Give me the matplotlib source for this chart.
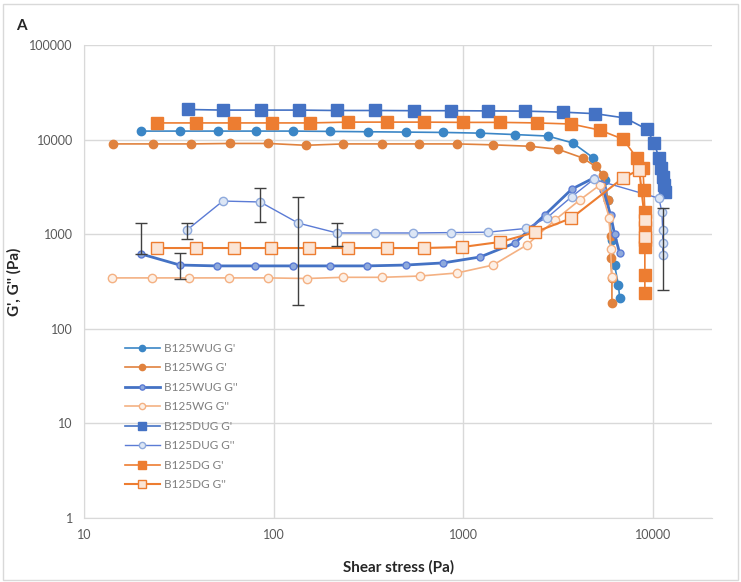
import matplotlib
matplotlib.use("Agg")
import matplotlib.pyplot as plt
from matplotlib.patches import Rectangle
import numpy as np

plt.rcParams['font.family'] = ['Lato', 'DejaVu Sans']

# B125WUG G' (blue circles)
wug_g1_x = [20, 32, 51, 81, 127, 199, 316, 500, 785, 1230, 1880, 2800, 3800, 4870, 5600, 5800, 6100, 6300, 6600, 6700]
wug_g1_y = [12300, 12300, 12300, 12300, 12300, 12200, 12100, 12000, 11900, 11700, 11300, 10900, 9200, 6400, 3700, 2300, 870, 470, 290, 212]

# B125WG G' (orange circles)
wg_g1_x = [14.2, 23.2, 36.7, 59, 94, 148, 233, 373, 588, 929, 1440, 2250, 3170, 4270, 5000, 5500, 5800, 6000, 6000, 6100, 6100]
wg_g1_y = [9000, 9000, 9000, 9100, 9100, 8700, 9000, 9000, 9000, 9000, 8800, 8500, 7900, 6400, 5200, 4200, 2300, 950, 565, 345, 188]

# B125WUG G'' (thick blue line)
wug_g2_x = [20, 32, 50, 80, 127, 199, 312, 500, 785, 1230, 1880, 2700, 3750, 4890, 5500, 6000, 6300, 6700]
wug_g2_y = [618, 472, 462, 462, 462, 462, 462, 472, 497, 574, 807, 1600, 3000, 3930, 2900, 1600, 1000, 630]
wug_g2_lo = [618, 336] + [0] * 16
wug_g2_hi = [1310, 633] + [0] * 16

# B125WG G'' (light orange, open circles)
wg_g2_x = [14, 22.8, 36, 58, 94, 150, 232, 373, 592, 929, 1440, 2170, 3050, 4130, 5260, 5900, 6000, 6100]
wg_g2_y = [345, 345, 345, 345, 345, 340, 350, 350, 361, 389, 472, 769, 1410, 2300, 3300, 1500, 700, 350]

# B125DUG G' (blue squares)
dug_g1_x = [35.4, 54, 86, 136, 216, 345, 550, 866, 1350, 2110, 3350, 4980, 7170, 9300, 10200, 10800, 11100, 11400, 11500, 11600]
dug_g1_y = [20800, 20500, 20500, 20500, 20300, 20300, 20200, 20200, 20100, 20000, 19500, 18800, 16900, 12900, 9200, 6400, 5000, 4000, 3300, 2800]

# B125DUG G'' (thin blue, open circles)
dug_g2_x = [35, 54, 85, 135, 216, 345, 546, 864, 1350, 2150, 2780, 3750, 4890, 10800, 11200, 11300, 11300, 11300]
dug_g2_y = [1110, 2240, 2190, 1310, 1030, 1030, 1030, 1040, 1050, 1150, 1500, 2500, 3800, 2400, 1700, 1100, 800, 600]
dug_g2_lo = [890, 0, 1350, 179, 750, 0, 0, 0, 0, 0, 0, 0, 0, 0, 0, 260, 0, 0]
dug_g2_hi = [1310, 0, 3080, 2470, 1310, 0, 0, 0, 0, 0, 0, 0, 0, 0, 0, 1900, 0, 0]

# B125DG G' (orange squares)
dg_g1_x = [24.3, 39, 62, 98, 156, 247, 397, 619, 1000, 1570, 2460, 3730, 5270, 6980, 8260, 8900, 9000, 9100, 9100, 9100, 9100, 9100, 9100]
dg_g1_y = [15000, 15000, 15000, 15000, 15000, 15300, 15300, 15300, 15200, 15200, 15000, 14600, 12600, 10100, 6400, 5000, 2900, 1700, 1200, 870, 730, 370, 240]

# B125DG G'' (orange, open squares)
dg_g2_x = [24.3, 39, 62, 97, 154, 247, 397, 619, 988, 1570, 2400, 3730, 6980, 8500, 9100, 9100]
dg_g2_y = [714, 714, 714, 714, 714, 714, 714, 714, 731, 828, 1050, 1480, 3930, 4800, 1400, 930]

fig = plt.figure(figsize=(7.41, 5.82), dpi=100)
ax = fig.add_axes([0.1134, 0.110, 0.8476, 0.8127])

# chart frame
fig.patches.append(Rectangle((0.004, 0.003), 0.992, 0.99, transform=fig.transFigure,
                             fill=False, edgecolor='#D9D9D9', lw=1))

h = []
h += ax.plot(wug_g1_x, wug_g1_y, '-o', color='#3B86C6', lw=1.2, ms=6, mec='#3B86C6', label="B125WUG G'")
h += ax.plot(wg_g1_x, wg_g1_y, '-o', color='#E0823E', lw=1.2, ms=6, mec='#E0823E', label="B125WG G'")
h += ax.plot(wug_g2_x, wug_g2_y, '-o', color='#4472C4', lw=2.0, ms=5, mfc='#8FAADC', mec='#5B7BD5', label="B125WUG G''")
h += ax.plot(wg_g2_x, wg_g2_y, '-o', color='#F4B183', lw=1.2, ms=6, mfc='#FDF0E6', mec='#F4B183', label="B125WG G''")
h += ax.plot(dug_g1_x, dug_g1_y, '-s', color='#4472C4', lw=1.2, ms=8.5, mec='#4472C4', label="B125DUG G'")
h += ax.plot(dug_g2_x, dug_g2_y, '-o', color='#5B7BD5', lw=1.0, ms=6, mfc='#DCE6F5', mec='#8FAADC', label="B125DUG G''")
h += ax.plot(dg_g1_x, dg_g1_y, '-s', color='#ED7D31', lw=1.2, ms=8.5, mec='#ED7D31', label="B125DG G'")
h += ax.plot(dg_g2_x, dg_g2_y, '-s', color='#ED7D31', lw=1.5, ms=8.5, mfc='#FBE5D6', mec='#ED7D31', label="B125DG G''")

# error bars
for xs, ys, lo, hi in [(wug_g2_x, wug_g2_y, wug_g2_lo, wug_g2_hi),
                       (dug_g2_x, dug_g2_y, dug_g2_lo, dug_g2_hi)]:
    xs, ys, lo, hi = map(np.array, (xs, ys, lo, hi))
    m = hi > 0
    ax.errorbar(xs[m], ys[m], yerr=[ys[m] - lo[m], hi[m] - ys[m]], fmt='none',
                ecolor='#404040', elinewidth=1, capsize=4, zorder=5)

ax.set_xscale('log')
ax.set_yscale('log')
ax.set_xlim(10, 20600)
ax.set_ylim(1, 100000)
ax.set_xticks([10, 100, 1000, 10000])
ax.set_xticklabels(['10', '100', '1000', '10000'])
ax.set_yticks([1, 10, 100, 1000, 10000, 100000])
ax.set_yticklabels(['1', '10', '100', '1000', '10000', '100000'])
ax.minorticks_off()
ax.tick_params(length=0, labelsize=9, colors='#595959', pad=8)
ax.grid(True, color='#D9D9D9', lw=1)
ax.set_axisbelow(True)
for s in ['top', 'right']:
    ax.spines[s].set_visible(False)
for s in ['left', 'bottom']:
    ax.spines[s].set_color('#D9D9D9')

ax.set_xlabel('Shear stress (Pa)', fontsize=11, fontweight='bold', color='#262626', labelpad=14)
ax.set_ylabel("G', G'' (Pa)", fontsize=11, fontweight='bold', color='#262626', labelpad=6)
fig.text(0.022, 0.948, 'A', fontsize=11, fontweight='bold', color='#262626')

leg = ax.legend(handles=h, loc='upper left', bbox_to_anchor=(0.057, 0.38), frameon=False,
                fontsize=8.5, handlelength=3.0, labelspacing=0.72, borderaxespad=0,
                handletextpad=0.3, markerscale=0.75)
for t in leg.get_texts():
    t.set_color('#7F7F7F')

fig.savefig('out.png', dpi=100)
